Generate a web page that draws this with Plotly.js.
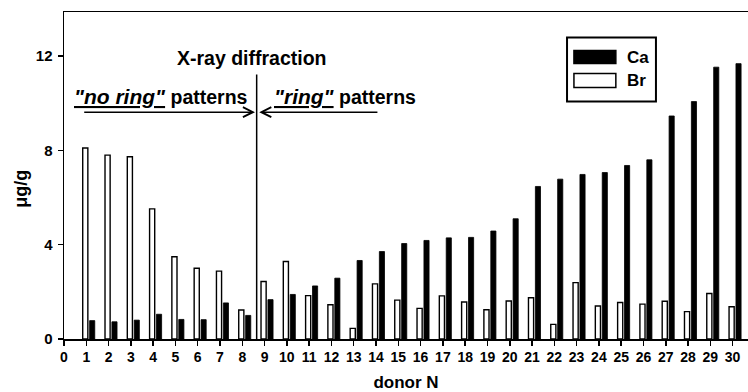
<!DOCTYPE html>
<html>
<head>
<meta charset="utf-8">
<script src="https://cdn.plot.ly/plotly-3.0.1.min.js"></script>
<style>html,body{margin:0;padding:0;background:#fff;}#chart{width:748px;height:392px;}</style>
</head>
<body>
<div id="chart"></div>
<script>
const donors = [1,2,3,4,5,6,7,8,9,10,11,12,13,14,15,16,17,18,19,20,21,22,23,24,25,26,27,28,29,30];
const brValues = [8.1,7.8,7.73,5.52,3.49,3.0,2.88,1.23,2.44,3.29,1.84,1.45,0.45,2.34,1.65,1.30,1.83,1.57,1.24,1.61,1.75,0.62,2.39,1.40,1.55,1.48,1.60,1.16,1.93,1.37];
const caValues = [0.78,0.73,0.80,1.05,0.83,0.82,1.53,1.00,1.67,1.89,2.25,2.58,3.33,3.71,4.05,4.18,4.29,4.31,4.58,5.10,6.47,6.78,6.98,7.06,7.36,7.60,9.46,10.07,11.53,11.68];
const xTicks = [0,1,2,3,4,5,6,7,8,9,10,11,12,13,14,15,16,17,18,19,20,21,22,23,24,25,26,27,28,29,30];
const yTicks = [0,4,8,12];

const F = 'Arial, "Liberation Sans", sans-serif';

const traces = [
  {type:'bar', name:'Br', x:donors, y:brValues, offset:-0.16, width:0.23,
   marker:{color:'#ffffff', line:{color:'#000', width:1.4}}, hoverinfo:'x+y'},
  {type:'bar', name:'Ca', x:donors, y:caValues, offset:0.15, width:0.23,
   marker:{color:'#000000', line:{color:'#000', width:0.8}}, hoverinfo:'x+y'}
];

const layout = {
  width:748, height:392,
  margin:{l:64, r:0, t:12, b:53},
  paper_bgcolor:'#fff', plot_bgcolor:'#fff',
  showlegend:false,
  barmode:'overlay',
  font:{family:F, color:'#000'},
  xaxis:{
    range:[0,30.69], tickvals:xTicks, ticktext:xTicks.map(String),
    showgrid:false, zeroline:false, showline:true, linecolor:'#000', linewidth:1.5, mirror:true,
    ticks:'outside', ticklen:5, tickwidth:1.5, tickcolor:'#000',
    tickfont:{family:F, size:14, weight:'bold', color:'#000'},
    title:{text:'donor N', font:{family:F, size:17, weight:'bold', color:'#000'}, standoff:12}
  },
  yaxis:{
    range:[0,13.87], tickvals:yTicks, ticktext:yTicks.map(String),
    showgrid:false, zeroline:false, showline:true, linecolor:'#000', linewidth:1.5,
    ticks:'outside', ticklen:5, tickwidth:1.5, tickcolor:'#000', ticklabelstandoff:2,
    tickfont:{family:F, size:15, weight:'bold', color:'#000'}
  },
  shapes:[
    {type:'line', xref:'x', yref:'y', x0:8.645, x1:8.645, y0:0, y1:11.22, line:{color:'#000', width:1.5}},
    {type:'rect', xref:'x', yref:'y', x0:22.57, x1:26.56, y0:10.07, y1:12.79, line:{color:'#000', width:2}, fillcolor:'#fff'},
    {type:'rect', xref:'x', yref:'y', x0:22.88, x1:24.76, y0:11.69, y1:12.24, line:{color:'#000', width:1.5}, fillcolor:'#000'},
    {type:'rect', xref:'x', yref:'y', x0:22.88, x1:24.76, y0:10.67, y1:11.26, line:{color:'#000', width:1.5}, fillcolor:'#fff'}
  ],
  annotations:[
    {xref:'paper', yref:'paper', x:-0.063, y:0.459, text:'μg/g', showarrow:false, textangle:-90,
     font:{family:F, size:18, weight:'bold', color:'#000'}, xanchor:'center', yanchor:'middle'},
    {xref:'x', yref:'y', x:8.43, y:11.9, text:'X-ray diffraction', showarrow:false,
     font:{family:F, size:19.5, weight:'bold', color:'#000'}, xanchor:'center', yanchor:'middle'},
    {xref:'x', yref:'y', x:4.374, y:10.3, text:'<i><u><span style="font-size:21px">"no ring"</span></u></i> patterns', showarrow:false,
     font:{family:F, size:19.5, weight:'bold', color:'#000'}, xanchor:'center', yanchor:'middle'},
    {xref:'x', yref:'y', x:12.6, y:10.3, text:'<i><u><span style="font-size:21px">"ring"</span></u></i> patterns', showarrow:false,
     font:{family:F, size:19.5, weight:'bold', color:'#000'}, xanchor:'center', yanchor:'middle'},
    {xref:'x', yref:'y', x:8.57, y:9.62, axref:'x', ayref:'y', ax:0.84, ay:9.62, text:'', showarrow:true,
     arrowhead:5, arrowsize:1.3, arrowwidth:1.5, arrowcolor:'#000', standoff:0, startstandoff:0},
    {xref:'x', yref:'y', x:8.76, y:9.62, axref:'x', ayref:'y', ax:14.13, ay:9.62, text:'', showarrow:true,
     arrowhead:5, arrowsize:1.3, arrowwidth:1.5, arrowcolor:'#000', standoff:0, startstandoff:0},
    {xref:'x', yref:'y', x:25.17, y:11.96, text:'Ca', showarrow:false, xanchor:'left', yanchor:'middle',
     font:{family:F, size:17, weight:'bold', color:'#000'}},
    {xref:'x', yref:'y', x:25.17, y:10.96, text:'Br', showarrow:false, xanchor:'left', yanchor:'middle',
     font:{family:F, size:17, weight:'bold', color:'#000'}}
  ]
};

Plotly.newPlot('chart', traces, layout, {displayModeBar:false, staticPlot:true});
</script>
</body>
</html>
